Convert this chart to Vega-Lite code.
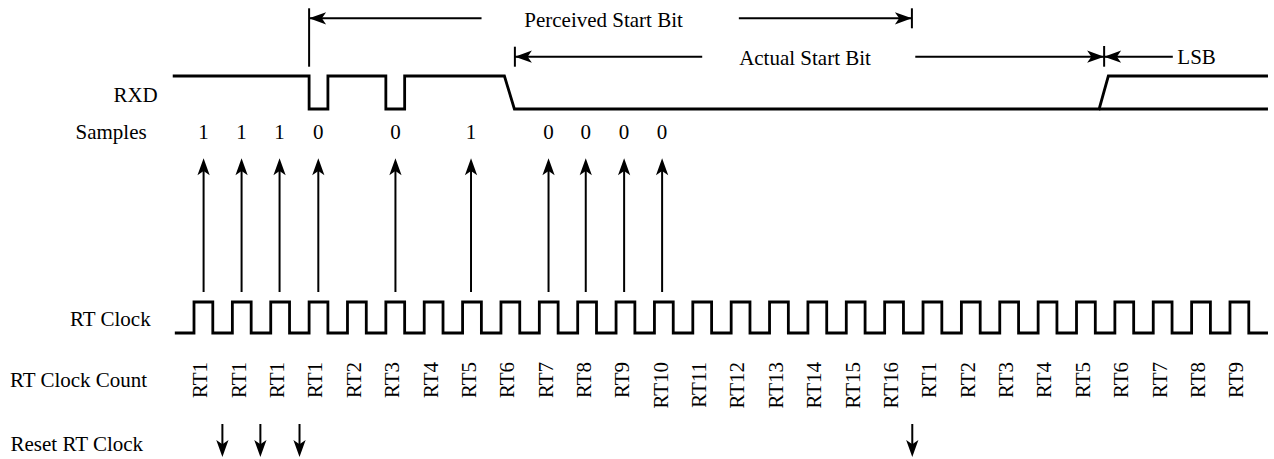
{
"$schema":"https://vega.github.io/schema/vega-lite/v6.json",
"width":1274,"height":459,"padding":0,
"autosize":{"type":"fit","contains":"padding"},
"background":"white",
"config":{"view":{"stroke":null}},
"datasets":{
"clock":[{"t":-0.5,"y":333},{"t":0,"y":302},{"t":0.49,"y":333},{"t":1,"y":302},{"t":1.49,"y":333},{"t":2,"y":302},{"t":2.49,"y":333},{"t":3,"y":302},{"t":3.49,"y":333},{"t":4,"y":302},{"t":4.49,"y":333},{"t":5,"y":302},{"t":5.49,"y":333},{"t":6,"y":302},{"t":6.49,"y":333},{"t":7,"y":302},{"t":7.49,"y":333},{"t":8,"y":302},{"t":8.49,"y":333},{"t":9,"y":302},{"t":9.49,"y":333},{"t":10,"y":302},{"t":10.49,"y":333},{"t":11,"y":302},{"t":11.49,"y":333},{"t":12,"y":302},{"t":12.49,"y":333},{"t":13,"y":302},{"t":13.49,"y":333},{"t":14,"y":302},{"t":14.49,"y":333},{"t":15,"y":302},{"t":15.49,"y":333},{"t":16,"y":302},{"t":16.49,"y":333},{"t":17,"y":302},{"t":17.49,"y":333},{"t":18,"y":302},{"t":18.49,"y":333},{"t":19,"y":302},{"t":19.49,"y":333},{"t":20,"y":302},{"t":20.49,"y":333},{"t":21,"y":302},{"t":21.49,"y":333},{"t":22,"y":302},{"t":22.49,"y":333},{"t":23,"y":302},{"t":23.49,"y":333},{"t":24,"y":302},{"t":24.49,"y":333},{"t":25,"y":302},{"t":25.49,"y":333},{"t":26,"y":302},{"t":26.49,"y":333},{"t":27,"y":302},{"t":27.49,"y":333},{"t":27.99,"y":333}],
"rxd":[{"seg":"a","o":0,"t":-0.554,"y":76},{"seg":"a","o":1,"t":3.0,"y":76},{"seg":"a","o":2,"t":3.0,"y":109},{"seg":"a","o":3,"t":3.49,"y":109},{"seg":"a","o":4,"t":3.49,"y":76},{"seg":"a","o":5,"t":5.0,"y":76},{"seg":"a","o":6,"t":5.0,"y":109},{"seg":"a","o":7,"t":5.49,"y":109},{"seg":"a","o":8,"t":5.49,"y":76},{"seg":"a","o":9,"t":8.09,"y":76},{"seg":"a","o":10,"t":8.35,"y":109},{"seg":"a","o":11,"t":23.59,"y":109},{"seg":"a","o":12,"t":23.83,"y":76},{"seg":"a","o":13,"t":27.99,"y":76},{"seg":"b","o":0,"t":23.59,"y":109},{"seg":"b","o":1,"t":27.99,"y":109}],
"rules":[{"t":0.25,"t2":0.25,"y":292,"y2":166},{"t":1.24,"t2":1.24,"y":292,"y2":166},{"t":2.23,"t2":2.23,"y":292,"y2":166},{"t":3.24,"t2":3.24,"y":292,"y2":166},{"t":5.25,"t2":5.25,"y":292,"y2":166},{"t":7.22,"t2":7.22,"y":292,"y2":166},{"t":9.24,"t2":9.24,"y":292,"y2":166},{"t":10.21,"t2":10.21,"y":292,"y2":166},{"t":11.21,"t2":11.21,"y":292,"y2":166},{"t":12.2,"t2":12.2,"y":292,"y2":166},
{"t":0.74,"t2":0.74,"y":424,"y2":450},{"t":1.73,"t2":1.73,"y":424,"y2":450},{"t":2.75,"t2":2.75,"y":424,"y2":450},{"t":18.72,"t2":18.72,"y":424,"y2":450},
{"t":3.0,"t2":3.0,"y":8.3,"y2":66.7},{"t":18.71,"t2":18.71,"y":8.3,"y2":28.3},{"t":3.0,"t2":7.494,"y":18.3,"y2":18.3},{"t":14.2,"t2":18.71,"y":18.3,"y2":18.3},
{"t":8.363,"t2":8.363,"y":46.7,"y2":66.7},{"t":8.363,"t2":13.245,"y":56.7,"y2":56.7},{"t":18.798,"t2":23.72,"y":56.7,"y2":56.7},
{"t":23.72,"t2":23.72,"y":46,"y2":66.7},{"t":23.72,"t2":25.51,"y":56.7,"y2":56.7}],
"heads":[{"t":0.25,"y":158.3,"a":0},{"t":1.24,"y":158.3,"a":0},{"t":2.23,"y":158.3,"a":0},{"t":3.24,"y":158.3,"a":0},{"t":5.25,"y":158.3,"a":0},{"t":7.22,"y":158.3,"a":0},{"t":9.24,"y":158.3,"a":0},{"t":10.21,"y":158.3,"a":0},{"t":11.21,"y":158.3,"a":0},{"t":12.2,"y":158.3,"a":0},
{"t":0.74,"y":457,"a":180},{"t":1.73,"y":457,"a":180},{"t":2.75,"y":457,"a":180},{"t":18.72,"y":457,"a":180},
{"t":3.0,"y":18.3,"a":270},{"t":18.71,"y":18.3,"a":90},{"t":8.363,"y":56.7,"a":270},{"t":23.72,"y":56.7,"a":90},{"t":23.72,"y":56.7,"a":270}],
"texts":[{"t":-1.522,"y":101.7,"s":"RXD"},{"t":-2.162,"y":139.3,"s":"Samples"},{"t":-2.18,"y":326,"s":"RT Clock"},{"t":-3.008,"y":386.7,"s":"RT Clock Count"},{"t":-3.055,"y":450.7,"s":"Reset RT Clock"},
{"t":10.674,"y":27,"s":"Perceived Start Bit"},{"t":15.925,"y":65,"s":"Actual Start Bit"},{"t":26.13,"y":64.3,"s":"LSB"},
{"t":0.25,"y":139,"s":"1"},{"t":1.24,"y":139,"s":"1"},{"t":2.23,"y":139,"s":"1"},{"t":3.24,"y":139,"s":"0"},{"t":5.25,"y":139,"s":"0"},{"t":7.22,"y":139,"s":"1"},{"t":9.24,"y":139,"s":"0"},{"t":10.21,"y":139,"s":"0"},{"t":11.21,"y":139,"s":"0"},{"t":12.2,"y":139,"s":"0"}],
"counts":[{"t":0.19,"y":362,"s":"RT1"},{"t":1.19,"y":362,"s":"RT1"},{"t":2.19,"y":362,"s":"RT1"},{"t":3.19,"y":362,"s":"RT1"},{"t":4.19,"y":362,"s":"RT2"},{"t":5.19,"y":362,"s":"RT3"},{"t":6.19,"y":362,"s":"RT4"},{"t":7.19,"y":362,"s":"RT5"},{"t":8.19,"y":362,"s":"RT6"},{"t":9.19,"y":362,"s":"RT7"},{"t":10.19,"y":362,"s":"RT8"},{"t":11.19,"y":362,"s":"RT9"},{"t":12.19,"y":362,"s":"RT10"},{"t":13.19,"y":362,"s":"RT11"},{"t":14.19,"y":362,"s":"RT12"},{"t":15.19,"y":362,"s":"RT13"},{"t":16.19,"y":362,"s":"RT14"},{"t":17.19,"y":362,"s":"RT15"},{"t":18.19,"y":362,"s":"RT16"},{"t":19.19,"y":362,"s":"RT1"},{"t":20.19,"y":362,"s":"RT2"},{"t":21.19,"y":362,"s":"RT3"},{"t":22.19,"y":362,"s":"RT4"},{"t":23.19,"y":362,"s":"RT5"},{"t":24.19,"y":362,"s":"RT6"},{"t":25.19,"y":362,"s":"RT7"},{"t":26.19,"y":362,"s":"RT8"},{"t":27.19,"y":362,"s":"RT9"}]
},
"encoding":{
"x":{"field":"t","type":"quantitative","scale":{"domain":[-5.056,28.095],"nice":false,"zero":false},"axis":null},
"y":{"field":"y","type":"quantitative","scale":{"domain":[0,459],"reverse":true,"nice":false,"zero":false},"axis":null}
},
"layer":[
{"data":{"name":"clock"},"mark":{"type":"line","interpolate":"step-after","color":"black","strokeWidth":2.8,"strokeJoin":"miter"}},
{"data":{"name":"rxd"},"mark":{"type":"line","color":"black","strokeWidth":2.8,"strokeJoin":"miter"},"encoding":{"detail":{"field":"seg"},"order":{"field":"o"}}},
{"data":{"name":"rules"},"mark":{"type":"rule","color":"black","strokeWidth":2},"encoding":{"x2":{"field":"t2"},"y2":{"field":"y2"}}},
{"data":{"name":"heads"},"mark":{"type":"point","shape":"M0,0L0.72,2L0,1.5L-0.72,2Z","filled":true,"color":"black","size":289,"opacity":1,"strokeWidth":0},"encoding":{"angle":{"field":"a","type":"quantitative","scale":null}}},
{"data":{"name":"texts"},"mark":{"type":"text","font":"'Liberation Serif', 'DejaVu Serif', 'Times New Roman', serif","fontSize":21,"align":"center","baseline":"alphabetic","color":"black"},"encoding":{"text":{"field":"s"}}},
{"data":{"name":"counts"},"mark":{"type":"text","font":"'Liberation Serif', 'DejaVu Serif', 'Times New Roman', serif","fontSize":21,"angle":270,"align":"right","baseline":"middle","color":"black"},"encoding":{"text":{"field":"s"}}}
]
}
